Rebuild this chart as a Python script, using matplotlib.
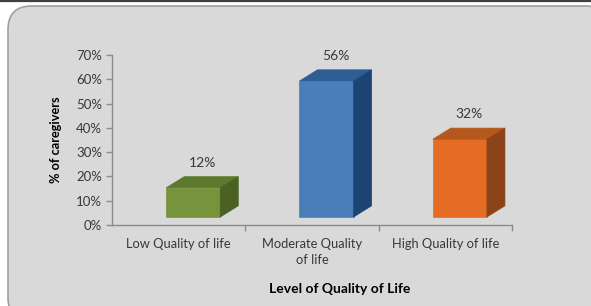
import matplotlib
matplotlib.use("Agg")
import matplotlib.pyplot as plt
from matplotlib.patches import Polygon, FancyBboxPatch
from matplotlib.lines import Line2D

categories = ["Low Quality of life", "Moderate Quality\nof life", "High Quality of life"]
values = [12, 56, 32]
labels = ["12%", "56%", "32%"]
yticks = [0, 10, 20, 30, 40, 50, 60, 70]
front_colors = ["#77933c", "#4a7ebb", "#e46c24"]
top_colors = ["#5d7a2c", "#2d5d92", "#b5581d"]
side_colors = ["#4b6124", "#1d4573", "#8c431a"]

plt.rcParams['font.family'] = ['Lato', 'DejaVu Sans']

W, H = 591, 306
fig = plt.figure(figsize=(W / 100, H / 100), dpi=100)
fig.patch.set_facecolor("white")

# background rounded panel
bg = FancyBboxPatch((8 / W, -0.05), (W + 10) / W, (H - 6) / H + 0.05,
                    boxstyle="round,pad=0,rounding_size=0.04",
                    transform=fig.transFigure, facecolor="#d9d9d9",
                    edgecolor="#a0a0a0", linewidth=1.2, zorder=-5,
                    mutation_aspect=W / H)
fig.add_artist(bg)
fig.add_artist(Line2D([0, 1], [1 - 0.8 / H, 1 - 0.8 / H], transform=fig.transFigure,
                      color="#404040", linewidth=1.6, zorder=-4))

ax = fig.add_axes([112 / W, 1 - 225 / H, 400 / W, 170 / H])
ax.set_zorder(2)
ax.set_facecolor("none")
ax.set_xlim(-0.5, 2.5)
ax.set_ylim(0, 70)

for s in ["top", "right"]:
    ax.spines[s].set_visible(False)
for s in ["left", "bottom"]:
    ax.spines[s].set_color("#8c8c8c")
    ax.spines[s].set_linewidth(1.0)

ax.set_yticks(yticks)
ax.set_yticklabels([f"{t}%" for t in yticks])
ax.tick_params(axis="y", colors="#8c8c8c", labelcolor="#383838", labelsize=9.5,
               length=4, width=1, pad=3)
ax.set_xticks([0.5, 1.5, 2.5], minor=False)
ax.set_xticklabels([])
ax.set_xticks([0, 1, 2], minor=True)
ax.set_xticklabels(categories, minor=True)
ax.tick_params(axis="x", which="major", colors="#8c8c8c", length=4, width=1, direction="out")
ax.tick_params(axis="x", which="minor", length=0, labelcolor="#383838", labelsize=9.3, pad=9)
for lab in ax.get_xticklabels(minor=True):
    lab.set_linespacing(1.4)

base = 3.3
fl, fw = -0.094, 0.406
dx, dy = 0.135, 4.6
for i, v in enumerate(values):
    x0 = i + fl
    x1 = x0 + fw
    y0 = base
    y1 = base + v
    front = Polygon([(x0, y0), (x1, y0), (x1, y1), (x0, y1)], closed=True,
                    facecolor=front_colors[i], edgecolor=front_colors[i], lw=0.5,
                    clip_on=False, zorder=3)
    top = Polygon([(x0, y1), (x1, y1), (x1 + dx, y1 + dy), (x0 + dx, y1 + dy)], closed=True,
                  facecolor=top_colors[i], edgecolor=top_colors[i], lw=0.5,
                  clip_on=False, zorder=3)
    side = Polygon([(x1, y0), (x1 + dx, y0 + dy), (x1 + dx, y1 + dy), (x1, y1)], closed=True,
                   facecolor=side_colors[i], edgecolor=side_colors[i], lw=0.5,
                   clip_on=False, zorder=3)
    for p in (front, top, side):
        ax.add_patch(p)
    ax.text((x0 + x1 + dx) / 2, y1 + dy + 3.2, labels[i], ha="center", va="bottom",
            fontsize=10, color="#383838", zorder=4)

ax.set_ylabel("% of caregivers", fontsize=9.2, fontweight="bold", color="black", labelpad=10)
fig.text(340 / W, 1 - 289 / H, "Level of Quality of Life", ha="center", va="center",
         fontsize=10, fontweight="bold", color="black")

fig.savefig("out.png", dpi=100, facecolor="white")
